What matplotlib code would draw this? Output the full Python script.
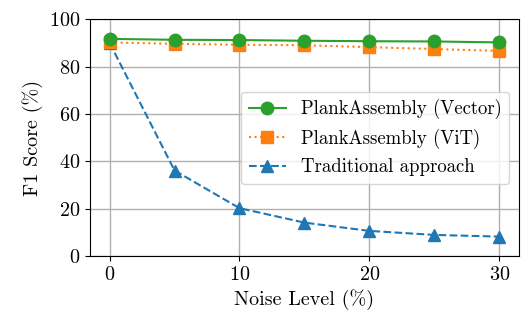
import matplotlib
matplotlib.use("Agg")
import matplotlib.pyplot as plt

plt.rcParams['font.family'] = 'serif'
plt.rcParams['font.serif'] = ['cmr10']
plt.rcParams['mathtext.fontset'] = 'cm'
plt.rcParams['axes.formatter.use_mathtext'] = True

# noise levels and F1 scores
noise = [0, 5, 10, 15, 20, 25, 30]
vector = [91.7, 91.3, 91.2, 90.9, 90.7, 90.6, 90.2]
vit = [90.2, 89.6, 89.2, 89.0, 88.2, 87.4, 86.6]
traditional = [90.0, 36.1, 20.2, 14.1, 10.6, 8.9, 8.2]

fig, ax = plt.subplots(figsize=(5.24, 3.2), dpi=100)

ax.plot(noise, traditional, '--^', color='#1f77b4', markersize=9, lw=1.5,
        label='Traditional approach', zorder=3)
ax.plot(noise, vit, ':s', color='#ff7f0e', markersize=9, lw=1.5,
        label='PlankAssembly (ViT)', zorder=4)
ax.plot(noise, vector, '-o', color='#2ca02c', markersize=9, lw=1.5,
        label='PlankAssembly (Vector)', zorder=5)

ax.set_ylim(0, 100)
ax.set_xticks([0, 10, 20, 30])
ax.set_yticks([0, 20, 40, 60, 80, 100])
ax.tick_params(labelsize=14.5)
ax.set_xlabel('Noise Level (%)', fontsize=14.5)
ax.set_ylabel('F1 Score (%)', fontsize=14.5)
ax.grid(True, color='#b0b0b0', lw=1)
ax.set_axisbelow(True)

h, l = ax.get_legend_handles_labels()
ax.legend(h[::-1], l[::-1], loc='center right', fontsize=13.5)

plt.subplots_adjust(left=0.172, right=0.99, bottom=0.2, top=0.94)
plt.savefig('out.png', dpi=100)
